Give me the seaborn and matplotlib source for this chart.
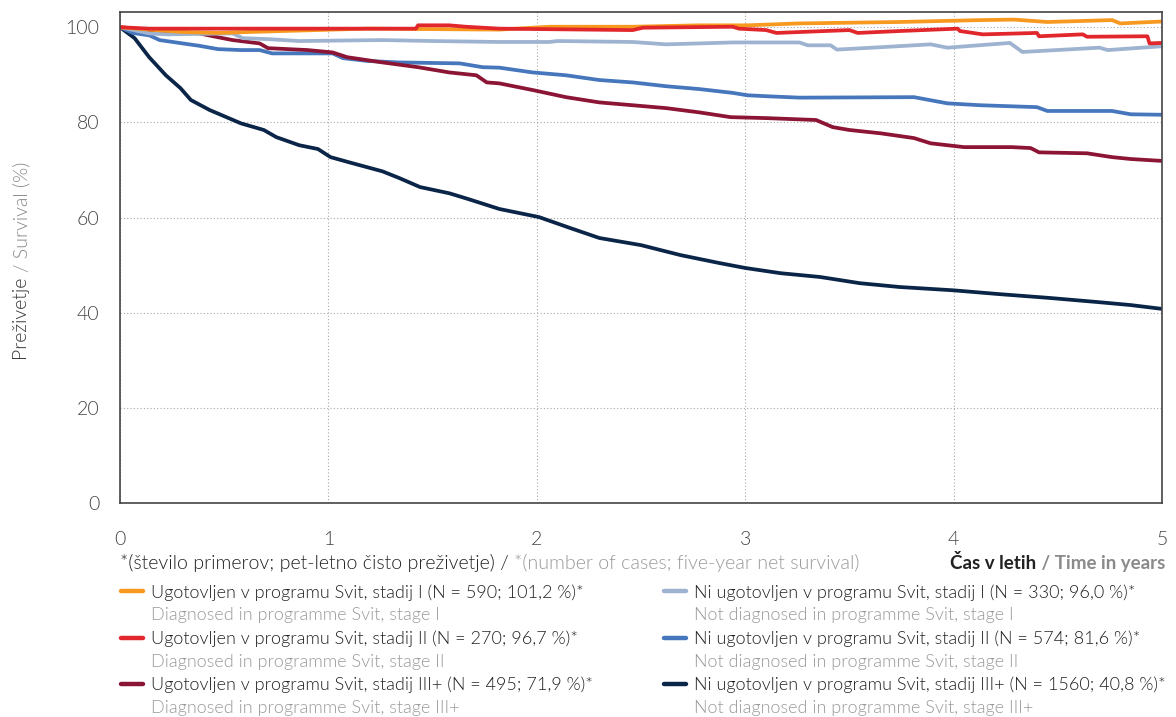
import numpy as np
import pandas as pd
import matplotlib.pyplot as plt
import seaborn as sns
from matplotlib.lines import Line2D

# --- data (time in years, net survival in %) ---
t_ug1 = [0, 0.14, 0.30, 0.47, 0.62, 0.78, 1.02, 1.19, 1.82, 2.06, 2.46, 2.78,
         3.01, 3.26, 3.74, 4.13, 4.29, 4.45, 4.76, 4.80, 5.00]
s_ug1 = [100, 99.5, 99.0, 98.8, 99.0, 99.2, 99.5, 99.7, 99.5, 100.1, 100.1, 100.4,
         100.4, 100.8, 101.1, 101.5, 101.6, 101.1, 101.5, 100.8, 101.2]

t_ug2 = [0, 0.14, 1.42, 1.43, 1.58, 1.66, 1.82, 2.46, 2.51, 2.94, 2.97, 3.10, 3.15,
         3.50, 3.54, 3.74, 4.02, 4.03, 4.14, 4.40, 4.41, 4.62, 4.64, 4.93, 4.94, 5.00]
s_ug2 = [100, 99.7, 99.7, 100.4, 100.4, 100.1, 99.7, 99.4, 99.9, 100.1, 99.7, 99.4, 98.8,
         99.4, 98.8, 99.2, 99.7, 99.2, 98.5, 98.8, 98.1, 98.5, 98.0, 98.1, 96.6, 96.7]

t_ug3 = [0, 0.14, 0.38, 0.47, 0.54, 0.67, 0.71, 0.90, 1.02, 1.09, 1.26, 1.43, 1.58,
         1.71, 1.76, 1.82, 1.98, 2.14, 2.30, 2.46, 2.62, 2.78, 2.93, 3.10, 3.34, 3.42,
         3.50, 3.65, 3.81, 3.89, 4.05, 4.28, 4.37, 4.41, 4.64, 4.76, 4.85, 5.00]
s_ug3 = [100, 99.4, 98.7, 97.9, 97.3, 96.6, 95.6, 95.2, 94.7, 93.7, 92.6, 91.6, 90.5,
         89.9, 88.4, 88.2, 86.8, 85.3, 84.2, 83.6, 83.0, 82.1, 81.1, 80.9, 80.5, 79.0,
         78.4, 77.7, 76.7, 75.6, 74.8, 74.8, 74.6, 73.7, 73.5, 72.7, 72.3, 71.9]

t_ni1 = [0, 0.14, 0.23, 0.54, 0.59, 0.71, 0.86, 1.26, 1.50, 1.82, 2.06, 2.10, 2.46,
         2.62, 2.94, 3.26, 3.30, 3.41, 3.44, 3.65, 3.89, 3.97, 4.27, 4.33, 4.70, 4.74, 5.00]
s_ni1 = [100, 98.7, 98.5, 98.7, 97.7, 97.5, 97.1, 97.3, 97.1, 96.9, 96.9, 97.1, 96.9,
         96.4, 96.8, 96.8, 96.2, 96.2, 95.3, 95.8, 96.4, 95.7, 96.7, 94.8, 95.7, 95.2, 96.0]

t_ni2 = [0, 0.06, 0.14, 0.19, 0.30, 0.38, 0.47, 0.58, 0.67, 0.73, 1.02, 1.07, 1.19,
         1.34, 1.63, 1.74, 1.82, 1.98, 2.14, 2.30, 2.46, 2.62, 2.78, 2.94, 3.01, 3.10,
         3.26, 3.81, 3.97, 4.13, 4.40, 4.45, 4.76, 4.85, 5.00]
s_ni2 = [100, 98.8, 98.3, 97.3, 96.6, 96.1, 95.4, 95.2, 95.2, 94.5, 94.5, 93.5, 92.9,
         92.6, 92.4, 91.6, 91.5, 90.5, 89.9, 88.9, 88.4, 87.6, 87.0, 86.2, 85.7, 85.5,
         85.2, 85.3, 84.0, 83.6, 83.2, 82.4, 82.4, 81.7, 81.6]

t_ni3 = [0, 0.07, 0.14, 0.22, 0.29, 0.34, 0.43, 0.58, 0.69, 0.75, 0.86, 0.95, 1.01,
         1.10, 1.26, 1.34, 1.44, 1.58, 1.67, 1.82, 2.01, 2.16, 2.30, 2.50, 2.69, 2.88,
         3.00, 3.17, 3.36, 3.55, 3.74, 4.00, 4.22, 4.46, 4.70, 4.85, 5.00]
s_ni3 = [100, 97.7, 93.7, 89.9, 87.2, 84.7, 82.6, 79.8, 78.4, 76.9, 75.2, 74.4, 72.7,
         71.6, 69.7, 68.3, 66.4, 65.1, 63.9, 61.8, 60.1, 57.8, 55.7, 54.2, 52.1, 50.4,
         49.4, 48.3, 47.5, 46.2, 45.4, 44.7, 43.9, 43.1, 42.2, 41.6, 40.8]

series_keys = ["ug1", "ug2", "ug3", "ni1", "ni2", "ni3"]
series_data = {"ug1": (t_ug1, s_ug1), "ug2": (t_ug2, s_ug2), "ug3": (t_ug3, s_ug3),
               "ni1": (t_ni1, s_ni1), "ni2": (t_ni2, s_ni2), "ni3": (t_ni3, s_ni3)}
colors = {"ug1": "#F7991E", "ug2": "#E1262C", "ug3": "#8C1434",
          "ni1": "#9DB3D0", "ni2": "#4676BB", "ni3": "#0B2548"}
labels_sl = [
    "Ugotovljen v programu Svit, stadij I (N = 590; 101,2 %)*",
    "Ugotovljen v programu Svit, stadij II (N = 270; 96,7 %)*",
    "Ugotovljen v programu Svit, stadij III+ (N = 495; 71,9 %)*",
    "Ni ugotovljen v programu Svit, stadij I (N = 330; 96,0 %)*",
    "Ni ugotovljen v programu Svit, stadij II (N = 574; 81,6 %)*",
    "Ni ugotovljen v programu Svit, stadij III+ (N = 1560; 40,8 %)*",
]
labels_en = [
    "Diagnosed in programme Svit, stage I",
    "Diagnosed in programme Svit, stage II",
    "Diagnosed in programme Svit, stage III+",
    "Not diagnosed in programme Svit, stage I",
    "Not diagnosed in programme Svit, stage II",
    "Not diagnosed in programme Svit, stage III+",
]
x_ticks = [0, 1, 2, 3, 4, 5]
y_ticks = [0, 20, 40, 60, 80, 100]

df = pd.concat(
    [pd.DataFrame({"t": series_data[k][0], "s": series_data[k][1], "group": k})
     for k in series_keys],
    ignore_index=True,
)

sns.set_style("white")
plt.rcParams["font.family"] = ["Lato", "DejaVu Sans"]
plt.rcParams["font.weight"] = 300
FS = 13

W, H = 1176, 717
fig = plt.figure(figsize=(W / 100, H / 100), dpi=100)
ax = fig.add_axes([120 / W, 1 - 503 / H, (1162 - 120) / W, (503 - 12) / H])

draw_order = ["ni3", "ni2", "ug3", "ni1", "ug1", "ug2"]
sns.lineplot(data=df, x="t", y="s", hue="group", hue_order=draw_order,
             palette=colors, estimator=None, sort=False, lw=2.7,
             legend=False, ax=ax)

ax.set_xlim(0, 5)
ax.set_ylim(0, 103.2)
ax.set_xticks(x_ticks)
ax.set_yticks(y_ticks)
ax.set_xlabel("")
ax.set_ylabel("")
ax.grid(True, color="#a8a8a8", lw=0.8, linestyle=(0, (1, 2)))
ax.tick_params(axis="both", direction="out", length=7, width=1.1,
               color="#555555", labelcolor="#444444", labelsize=14)
ax.tick_params(axis="y", pad=8)
ax.tick_params(axis="x", pad=13)
for sp in ax.spines.values():
    sp.set_color("#444444")
    sp.set_linewidth(1.2)

# legend: two columns, each row pair = Slovene label + grey English label
legend_pos = [(121, 584), (664, 584)]
for col in range(2):
    handles, labs = [], []
    for i in range(col * 3, col * 3 + 3):
        k = series_keys[i]
        handles.append(Line2D([], [], color=colors[k], lw=3.2))
        labs.append(labels_sl[i])
        handles.append(Line2D([], [], color="none"))
        labs.append(labels_en[i])
    x0, y0 = legend_pos[col]
    leg = fig.legend(handles, labs, loc="upper left",
                     bbox_to_anchor=(x0 / W, 1 - y0 / H), frameon=False,
                     fontsize=FS, borderpad=0, borderaxespad=0,
                     handlelength=1.22, handletextpad=0.42, labelspacing=0.38)
    for j, txt in enumerate(leg.get_texts()):
        txt.set_color("#222222" if j % 2 == 0 else "#9a9a9a")

fig.canvas.draw()
r = fig.canvas.get_renderer()

# footnote under the axis (two colours)
f1 = fig.text(120 / W, 1 - 563 / H, "*(število primerov; pet-letno čisto preživetje) / ",
              color="#222222", fontsize=14.1, va="center", ha="left")
bb = f1.get_window_extent(r)
fig.text(bb.x1 / W, 1 - 563 / H, "*(number of cases; five-year net survival)",
         color="#9a9a9a", fontsize=14.1, va="center", ha="left")

# x axis title, right aligned
x2 = fig.text(1165 / W, 1 - 563 / H, " / Time in years", color="#8a8a8a",
              fontsize=13.5, fontweight="bold", va="center", ha="right")
bb = x2.get_window_extent(r)
fig.text(bb.x0 / W, 1 - 563 / H, "Čas v letih", color="#222222",
         fontsize=13.5, fontweight="bold", va="center", ha="right")

# y axis title, rotated, two colours
y1 = fig.text(22 / W, 1 - 360 / H, "Preživetje ", color="#333333", fontsize=14,
              rotation=90, va="bottom", ha="center")
bb = y1.get_window_extent(r)
fig.text(22 / W, bb.y1 / H, "/ Survival (%)", color="#8a8a8a", fontsize=14,
         rotation=90, va="bottom", ha="center")

fig.savefig("out.png", dpi=100)
